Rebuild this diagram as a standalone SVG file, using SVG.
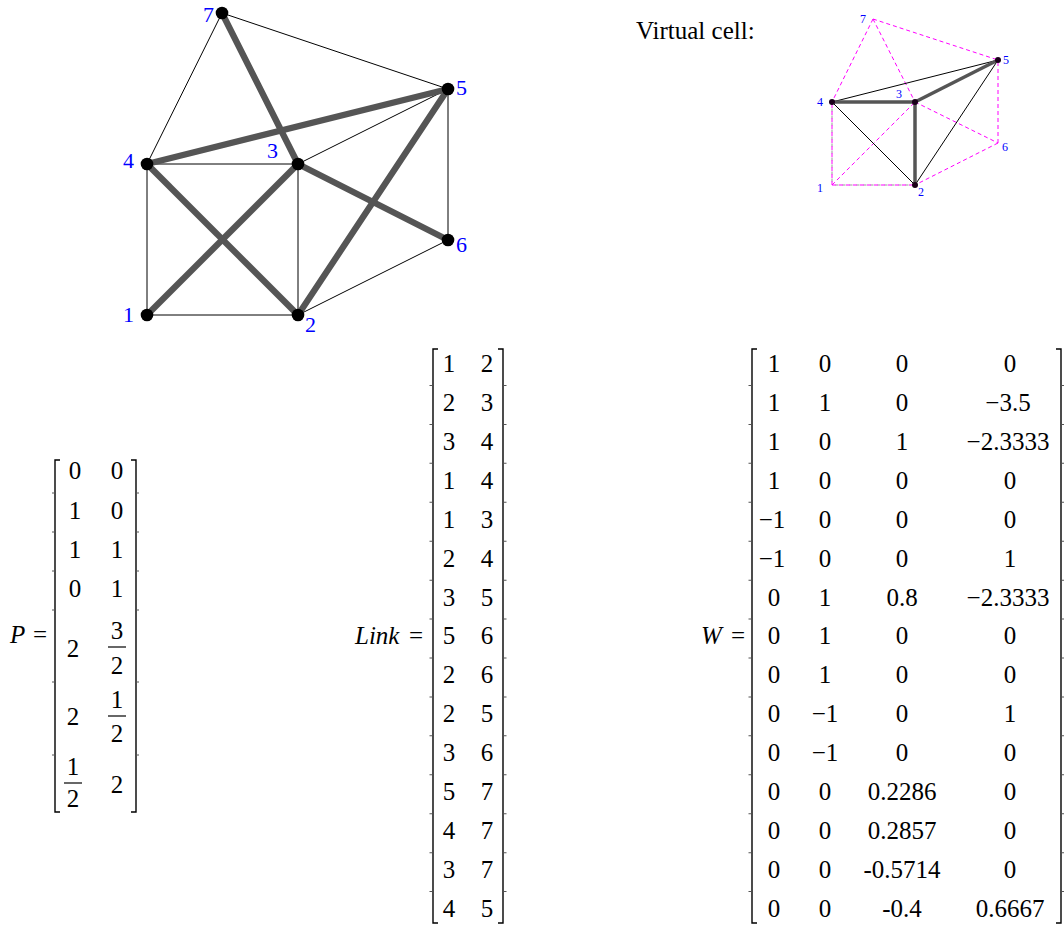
<svg xmlns="http://www.w3.org/2000/svg" width="1064" height="926" viewBox="0 0 1064 926">
<style>
text{font-family:"Liberation Serif","Times New Roman",serif;fill:#000}
.lbl{fill:#0000ff;font-size:22px}
.vl{fill:#0000ff;font-size:12px}
.m{font-size:25px;text-anchor:middle}
.big{font-size:25px}
.it{font-style:italic}
.thin{stroke:#000;stroke-width:1;fill:none}
.thick{stroke:#555;stroke-width:6.3;fill:none;stroke-linecap:round}
.vthick{stroke:#555;stroke-width:3.5;fill:none}
.dash{stroke:#ff00ff;stroke-width:1;stroke-dasharray:4 3;fill:none}
.gdash{stroke:#999;stroke-width:1;stroke-dasharray:3 4;stroke-dashoffset:3.5;fill:none}
.br{stroke:#000;stroke-width:1.4;fill:none}
.tick{stroke:#555;stroke-width:3;stroke-dasharray:1 37.93;fill:none}
.pt{stroke:#555;stroke-width:1;fill:none}
.bar{stroke:#000;stroke-width:1.2}
</style>
<rect width="1064" height="926" fill="#fff"/>
<!-- Main graph -->
<g id="edges">
<line class="thin" x1="147" y1="315" x2="298" y2="315"/>
<line class="thin" x1="147" y1="315" x2="147" y2="164"/>
<line class="thin" x1="298" y1="315" x2="298" y2="164"/>
<line class="thin" x1="147" y1="164" x2="298" y2="164"/>
<line class="thin" x1="147" y1="164" x2="222" y2="13"/>
<line class="thin" x1="222" y1="13" x2="448" y2="89"/>
<line class="thin" x1="298" y1="164" x2="448" y2="89"/>
<line class="thin" x1="448" y1="89" x2="448" y2="240"/>
<line class="thin" x1="448" y1="240" x2="298" y2="315"/>
<line class="thick" x1="222" y1="13" x2="298" y2="164"/>
<line class="thick" x1="147" y1="164" x2="448" y2="89"/>
<line class="thick" x1="147" y1="164" x2="298" y2="315"/>
<line class="thick" x1="147" y1="315" x2="298" y2="164"/>
<line class="thick" x1="298" y1="164" x2="448" y2="240"/>
<line class="thick" x1="298" y1="315" x2="448" y2="89"/>
</g>
<g id="n1"><circle cx="147" cy="315" r="6.3"/><text class="lbl" x="123" y="322">1</text></g>
<g id="n2"><circle cx="298" cy="315" r="6.3"/><text class="lbl" x="305" y="332">2</text></g>
<g id="n3"><circle cx="298" cy="164" r="6.3"/><text class="lbl" x="267" y="158">3</text></g>
<g id="n4"><circle cx="147" cy="164" r="6.3"/><text class="lbl" x="123" y="168">4</text></g>
<g id="n5"><circle cx="448" cy="89" r="6.3"/><text class="lbl" x="456" y="95">5</text></g>
<g id="n6"><circle cx="448" cy="240" r="6.3"/><text class="lbl" x="456" y="252">6</text></g>
<g id="n7"><circle cx="222" cy="13" r="6.3"/><text class="lbl" x="203" y="22">7</text></g>

<!-- Virtual cell -->
<text x="636" y="39" class="big">Virtual cell:</text>
<g id="vedges">
<line class="gdash" x1="832" y1="185" x2="915" y2="185"/>
<line class="gdash" x1="832" y1="185" x2="832" y2="102"/>
<line class="dash" x1="832" y1="185" x2="915" y2="185"/>
<line class="dash" x1="832" y1="185" x2="832" y2="102"/>
<line class="dash" x1="832" y1="185" x2="915" y2="102"/>
<line class="dash" x1="873" y1="19" x2="832" y2="102"/>
<line class="dash" x1="873" y1="19" x2="998" y2="60"/>
<line class="dash" x1="873" y1="19" x2="915" y2="102"/>
<line class="dash" x1="915" y1="102" x2="998" y2="143"/>
<line class="dash" x1="998" y1="143" x2="998" y2="60"/>
<line class="dash" x1="998" y1="143" x2="915" y2="185"/>
<line class="thin" x1="832" y1="102" x2="915" y2="185"/>
<line class="thin" x1="832" y1="102" x2="998" y2="60"/>
<line class="thin" x1="915" y1="185" x2="998" y2="60"/>
<line class="vthick" x1="832" y1="102" x2="915" y2="102"/>
<line class="vthick" x1="915" y1="102" x2="998" y2="60"/>
<line class="vthick" x1="915" y1="102" x2="915" y2="185"/>
</g>
<g id="v1"><text class="vl" x="817" y="192">1</text></g>
<g id="v2"><circle cx="915" cy="185" r="3" fill="#1a001a"/><text class="vl" x="918" y="196">2</text></g>
<g id="v3"><circle cx="915" cy="102" r="3" fill="#1a001a"/><text class="vl" x="896" y="98">3</text></g>
<g id="v4"><circle cx="832" cy="102" r="3" fill="#1a001a"/><text class="vl" x="817" y="106">4</text></g>
<g id="v5"><circle cx="998" cy="60" r="3" fill="#1a001a"/><text class="vl" x="1003" y="64">5</text></g>
<g id="v6"><text class="vl" x="1002" y="151">6</text></g>
<g id="v7"><text class="vl" x="860" y="23">7</text></g>

<!-- P matrix -->
<g id="matP">
<text x="10" y="643" class="it big">P</text>
<text x="33" y="643" class="big">=</text>
<path class="br" d="M60 460 H55 V812 H60 M131 460 H136 V812 H131"/>
<path class="pt" d="M52 493 H55 M52 532 H55 M52 571 H55 M52 610 H55 M52 682 H55 M52 755 H55 M136 493 H139 M136 532 H139 M136 571 H139 M136 610 H139 M136 682 H139 M136 755 H139"/>
<text class="m" x="75" y="479">0</text><text class="m" x="117" y="479">0</text>
<text class="m" x="75" y="519">1</text><text class="m" x="117" y="519">0</text>
<text class="m" x="75" y="558">1</text><text class="m" x="117" y="558">1</text>
<text class="m" x="75" y="597">0</text><text class="m" x="117" y="597">1</text>
<text class="m" x="73" y="657">2</text>
<text class="m" x="117" y="639">3</text><line class="bar" x1="108" y1="647" x2="126" y2="647"/><text class="m" x="117" y="674">2</text>
<text class="m" x="73" y="725">2</text>
<text class="m" x="117" y="708">1</text><line class="bar" x1="108" y1="716" x2="126" y2="716"/><text class="m" x="117" y="742">2</text>
<text class="m" x="73" y="775">1</text><line class="bar" x1="64" y1="783" x2="82" y2="783"/><text class="m" x="73" y="807">2</text>
<text class="m" x="117" y="793">2</text>
</g>

<!-- Link matrix -->
<g id="matLink">
<text x="355" y="644" class="it big">Link</text>
<text x="409" y="644" class="big">=</text>
<path class="br" d="M438 349 H433 V923 H438 M498 349 H503 V923 H498"/>
<line class="tick" x1="431" y1="385" x2="431" y2="900"/>
<line class="tick" x1="505" y1="385" x2="505" y2="900"/>
<text class="m" x="449" y="372">1</text><text class="m" x="487" y="372">2</text>
<text class="m" x="449" y="411">2</text><text class="m" x="487" y="411">3</text>
<text class="m" x="449" y="450">3</text><text class="m" x="487" y="450">4</text>
<text class="m" x="449" y="489">1</text><text class="m" x="487" y="489">4</text>
<text class="m" x="449" y="528">1</text><text class="m" x="487" y="528">3</text>
<text class="m" x="449" y="567">2</text><text class="m" x="487" y="567">4</text>
<text class="m" x="449" y="606">3</text><text class="m" x="487" y="606">5</text>
<text class="m" x="449" y="644">5</text><text class="m" x="487" y="644">6</text>
<text class="m" x="449" y="683">2</text><text class="m" x="487" y="683">6</text>
<text class="m" x="449" y="722">2</text><text class="m" x="487" y="722">5</text>
<text class="m" x="449" y="761">3</text><text class="m" x="487" y="761">6</text>
<text class="m" x="449" y="800">5</text><text class="m" x="487" y="800">7</text>
<text class="m" x="449" y="839">4</text><text class="m" x="487" y="839">7</text>
<text class="m" x="449" y="878">3</text><text class="m" x="487" y="878">7</text>
<text class="m" x="449" y="917">4</text><text class="m" x="487" y="917">5</text>
</g>

<!-- W matrix -->
<g id="matW">
<text x="701" y="644" class="it big">W</text>
<text x="731" y="644" class="big">=</text>
<path class="br" d="M757 349 H752 V923 H757 M1056 349 H1061 V923 H1056"/>
<line class="tick" x1="750" y1="385" x2="750" y2="900"/>
<line class="tick" x1="1063" y1="385" x2="1063" y2="900"/>
<text class="m" x="774" y="372">1</text><text class="m" x="825" y="372">0</text><text class="m" x="902" y="372">0</text><text class="m" x="1010" y="372">0</text>
<text class="m" x="774" y="411">1</text><text class="m" x="825" y="411">1</text><text class="m" x="902" y="411">0</text><text class="m" x="1008" y="411">−3.5</text>
<text class="m" x="774" y="450">1</text><text class="m" x="825" y="450">0</text><text class="m" x="902" y="450">1</text><text class="m" x="1008" y="450">−2.3333</text>
<text class="m" x="774" y="489">1</text><text class="m" x="825" y="489">0</text><text class="m" x="902" y="489">0</text><text class="m" x="1010" y="489">0</text>
<text class="m" x="772" y="528">−1</text><text class="m" x="825" y="528">0</text><text class="m" x="902" y="528">0</text><text class="m" x="1010" y="528">0</text>
<text class="m" x="772" y="567">−1</text><text class="m" x="825" y="567">0</text><text class="m" x="902" y="567">0</text><text class="m" x="1010" y="567">1</text>
<text class="m" x="774" y="606">0</text><text class="m" x="825" y="606">1</text><text class="m" x="902" y="606">0.8</text><text class="m" x="1008" y="606">−2.3333</text>
<text class="m" x="774" y="644">0</text><text class="m" x="825" y="644">1</text><text class="m" x="902" y="644">0</text><text class="m" x="1010" y="644">0</text>
<text class="m" x="774" y="683">0</text><text class="m" x="825" y="683">1</text><text class="m" x="902" y="683">0</text><text class="m" x="1010" y="683">0</text>
<text class="m" x="774" y="722">0</text><text class="m" x="825" y="722">−1</text><text class="m" x="902" y="722">0</text><text class="m" x="1010" y="722">1</text>
<text class="m" x="774" y="761">0</text><text class="m" x="825" y="761">−1</text><text class="m" x="902" y="761">0</text><text class="m" x="1010" y="761">0</text>
<text class="m" x="774" y="800">0</text><text class="m" x="825" y="800">0</text><text class="m" x="902" y="800">0.2286</text><text class="m" x="1010" y="800">0</text>
<text class="m" x="774" y="839">0</text><text class="m" x="825" y="839">0</text><text class="m" x="902" y="839">0.2857</text><text class="m" x="1010" y="839">0</text>
<text class="m" x="774" y="878">0</text><text class="m" x="825" y="878">0</text><text class="m" x="902" y="878">-0.5714</text><text class="m" x="1010" y="878">0</text>
<text class="m" x="774" y="917">0</text><text class="m" x="825" y="917">0</text><text class="m" x="902" y="917">-0.4</text><text class="m" x="1010" y="917">0.6667</text>
</g>
</svg>
